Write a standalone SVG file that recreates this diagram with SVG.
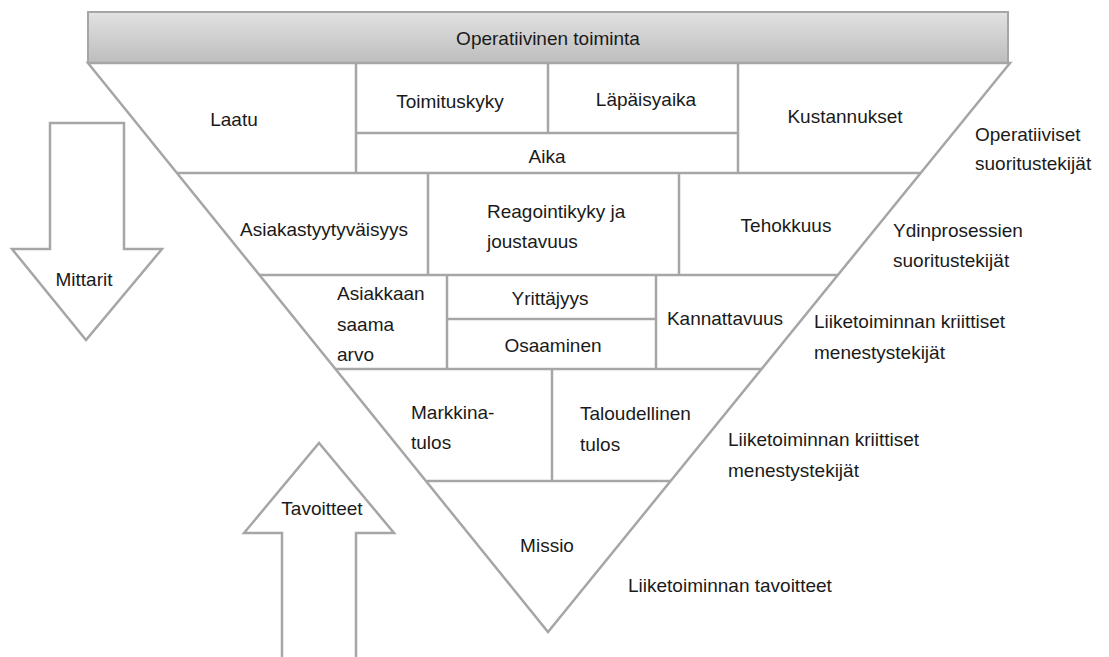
<svg xmlns="http://www.w3.org/2000/svg" width="1109" height="657" viewBox="0 0 1109 657">
  <defs>
    <linearGradient id="barFill" x1="0" y1="0" x2="0" y2="1">
      <stop offset="0" stop-color="#e2e2e2"/>
      <stop offset="1" stop-color="#bdbdbd"/>
    </linearGradient>
    <style>
      .edge { fill: none; stroke: #a6a6a6; stroke-width: 2.5; }
      .shape { fill: #ffffff; stroke: #a6a6a6; stroke-width: 2.5; stroke-linejoin: miter; }
      .bar { fill: url(#barFill); stroke: #a6a6a6; stroke-width: 2; }
      text { font-family: "Liberation Sans", Arial, sans-serif; font-size: 19px; fill: #1a1a1a; }
      .c { text-anchor: middle; }
    </style>
  </defs>

  <rect width="1109" height="657" fill="#ffffff"/>

  <!-- header bar -->
  <g id="header">
    <rect class="bar" x="88" y="12" width="920" height="51"/>
    <text class="c" x="548" y="45">Operatiivinen toiminta</text>
  </g>

  <!-- inverted pyramid outline and cell dividers -->
  <g id="pyramid">
    <polygon class="shape" points="88,63 1010,63 548,632"/>
    <!-- row dividers -->
    <line class="edge" x1="177" y1="173" x2="921" y2="173"/>
    <line class="edge" x1="259" y1="275" x2="838" y2="275"/>
    <line class="edge" x1="335" y1="369" x2="762" y2="369"/>
    <line class="edge" x1="427" y1="481" x2="671" y2="481"/>
    <!-- row 1 -->
    <line class="edge" x1="356" y1="63" x2="356" y2="173"/>
    <line class="edge" x1="548" y1="63" x2="548" y2="133"/>
    <line class="edge" x1="738" y1="63" x2="738" y2="173"/>
    <line class="edge" x1="356" y1="133" x2="738" y2="133"/>
    <!-- row 2 -->
    <line class="edge" x1="428" y1="173" x2="428" y2="275"/>
    <line class="edge" x1="679" y1="173" x2="679" y2="275"/>
    <!-- row 3 -->
    <line class="edge" x1="447" y1="275" x2="447" y2="369"/>
    <line class="edge" x1="656" y1="275" x2="656" y2="369"/>
    <line class="edge" x1="447" y1="319" x2="656" y2="319"/>
    <!-- row 4 -->
    <line class="edge" x1="552" y1="369" x2="552" y2="481"/>
  </g>

  <g id="laatu"><text class="c" x="234" y="126">Laatu</text></g>
  <g id="toimituskyky"><text class="c" x="450" y="108">Toimituskyky</text></g>
  <g id="lapaisyaika"><text class="c" x="646" y="106">Läpäisyaika</text></g>
  <g id="aika"><text class="c" x="547" y="163">Aika</text></g>
  <g id="kustannukset"><text class="c" x="845" y="123">Kustannukset</text></g>

  <g id="asiakastyytyvaisyys"><text class="c" x="324" y="236">Asiakastyytyväisyys</text></g>
  <g id="reagointikyky">
    <text x="487" y="218">Reagointikyky ja</text>
    <text x="487" y="248">joustavuus</text>
  </g>
  <g id="tehokkuus"><text class="c" x="786" y="232">Tehokkuus</text></g>

  <g id="asiakkaan-arvo">
    <text x="337" y="300">Asiakkaan</text>
    <text x="337" y="331">saama</text>
    <text x="337" y="361">arvo</text>
  </g>
  <g id="yrittajyys"><text class="c" x="550" y="305">Yrittäjyys</text></g>
  <g id="osaaminen"><text class="c" x="553" y="352">Osaaminen</text></g>
  <g id="kannattavuus"><text class="c" x="725" y="325">Kannattavuus</text></g>

  <g id="markkinatulos">
    <text x="411" y="419">Markkina-</text>
    <text x="411" y="449">tulos</text>
  </g>
  <g id="taloudellinen-tulos">
    <text x="580" y="420">Taloudellinen</text>
    <text x="580" y="451">tulos</text>
  </g>

  <g id="missio"><text class="c" x="547" y="552">Missio</text></g>

  <!-- side arrows -->
  <g id="mittarit">
    <polygon class="shape" points="50,123 124,123 124,249 162,249 86,340 12,249 50,249"/>
    <text class="c" x="84" y="286">Mittarit</text>
  </g>
  <g id="tavoitteet">
    <path class="shape" d="M282,660 L282,533 L244,533 L319,443 L394,533 L356,533 L356,660"/>
    <text class="c" x="322" y="515">Tavoitteet</text>
  </g>

  <!-- level labels -->
  <g id="level-operatiiviset">
    <text x="975" y="141">Operatiiviset</text>
    <text x="975" y="170">suoritustekijät</text>
  </g>
  <g id="level-ydinprosessit">
    <text x="893" y="237">Ydinprosessien</text>
    <text x="893" y="267">suoritustekijät</text>
  </g>
  <g id="level-menestystekijat-1">
    <text x="814" y="328">Liiketoiminnan kriittiset</text>
    <text x="814" y="359">menestystekijät</text>
  </g>
  <g id="level-menestystekijat-2">
    <text x="728" y="446">Liiketoiminnan kriittiset</text>
    <text x="728" y="477">menestystekijät</text>
  </g>
  <g id="level-tavoitteet">
    <text x="628" y="592">Liiketoiminnan tavoitteet</text>
  </g>

  <g id="connectors"/>
</svg>
